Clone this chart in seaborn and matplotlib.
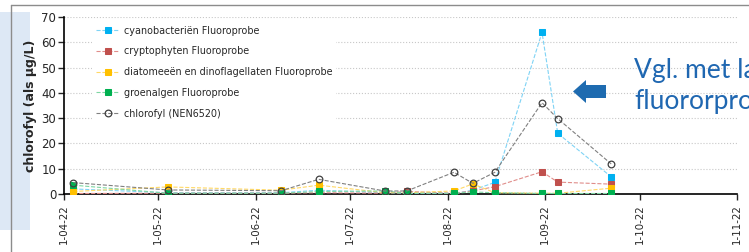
import matplotlib
matplotlib.use("Agg")
import matplotlib.pyplot as plt
import matplotlib.dates as mdates
from matplotlib.patches import Rectangle, Polygon
from matplotlib.lines import Line2D
import seaborn as sns
import pandas as pd

sns.set_style("white")
plt.rcParams['font.family'] = ['DejaVu Sans']

dates = ["2022-04-04", "2022-05-04", "2022-06-09", "2022-06-21", "2022-07-12", "2022-07-19",
         "2022-08-03", "2022-08-09", "2022-08-16", "2022-08-31", "2022-09-05", "2022-09-22"]
cyano = [2.0, 0.5, 0.5, 1.5, 0.5, 0.3, 0.2, 1.5, 4.6, 63.9, 24.0, 6.8]
crypto = [0.2, 0.3, 0.3, 0.5, 0.3, 1.0, 0.3, 1.2, 2.9, 8.8, 4.7, 3.9]
diatom = [1.0, 2.8, 1.5, 3.5, 0.5, 0.5, 1.2, 4.0, 0.5, 0.3, 0.3, 2.3]
groen = [3.5, 0.3, 0.3, 1.0, 1.2, 0.3, 0.3, 0.8, 0.5, 0.2, 0.2, 0.2]
chloro = [4.5, 1.6, 1.3, 5.8, 1.2, 1.2, 8.6, 4.2, 8.6, 36.1, 29.8, 11.9]

labels = ["cyanobacteriën Fluoroprobe", "cryptophyten Fluoroprobe",
          "diatomeeën en dinoflagellaten Fluoroprobe", "groenalgen Fluoroprobe",
          "chlorofyl (NEN6520)"]
xticks = ["2022-04-01", "2022-05-01", "2022-06-01", "2022-07-01", "2022-08-01",
          "2022-09-01", "2022-10-01", "2022-11-01"]

df = pd.DataFrame({"datum": pd.to_datetime(dates), "cyano": cyano, "crypto": crypto,
                   "diatom": diatom, "groen": groen, "chloro": chloro})

W, H = 749, 252
fig = plt.figure(figsize=(W / 100, H / 100), dpi=100)


def fx(x):
    return x / W


def fy(y):
    return 1 - y / H


# slide decorations
fig.patches.append(Rectangle((0, fy(230)), fx(30), fy(12) - fy(230), transform=fig.transFigure,
                             facecolor="#dde8f5", edgecolor="none", zorder=-2))
fig.lines.append(Line2D([fx(11), fx(11)], [fy(5), 0], transform=fig.transFigure,
                        color="#8c8c8c", lw=1, zorder=-1))
fig.lines.append(Line2D([fx(11), 1], [fy(5), fy(5)], transform=fig.transFigure,
                        color="#8c8c8c", lw=1, zorder=-1))

ax = fig.add_axes([fx(64), fy(194), fx(737) - fx(64), fy(17) - fy(194)])
ax.patch.set_alpha(0)

series = [("cyano", "#00b0f0", "#7fd3f5", "s"),
          ("crypto", "#c0504d", "#e08d8a", "s"),
          ("diatom", "#ffc000", "#ffd966", "s"),
          ("groen", "#00b050", "#7fd6a3", "s")]
for (col, mc, lc, m), lab in zip(series, labels[:4]):
    sns.lineplot(data=df, x="datum", y=col, ax=ax, color=lc, linestyle="--", lw=0.8,
                 marker=m, markersize=4.5, markerfacecolor=mc, markeredgecolor=mc,
                 label=lab, zorder=3)
sns.lineplot(data=df, x="datum", y="chloro", ax=ax, color="#808080", linestyle="--", lw=0.8,
             marker="o", markersize=4.8, markerfacecolor="none", markeredgecolor="#404040",
             markeredgewidth=0.9, label=labels[4], zorder=4)

ax.set_xlim(pd.Timestamp(xticks[0]), pd.Timestamp(xticks[-1]))
ax.set_ylim(0, 70)
ax.set_yticks(range(0, 71, 10))
ax.set_xticks(pd.to_datetime(xticks))
ax.xaxis.set_major_formatter(mdates.DateFormatter("1-%m-%y"))
ax.tick_params(axis="x", rotation=90, labelsize=7.4, length=4, width=1, direction="out",
               bottom=True, pad=3.5)
ax.tick_params(axis="y", labelsize=8.5, length=4, width=1, direction="out", left=True, pad=1.5)
ax.set_xlabel("")
ax.set_ylabel("chlorofyl (als µg/L)", fontsize=9, fontweight="bold", labelpad=3)
ax.yaxis.grid(True, linestyle=":", color="#c8c8c8", lw=0.8)
for s in ["top", "right"]:
    ax.spines[s].set_visible(False)
for s in ["left", "bottom"]:
    ax.spines[s].set_color("black")
    ax.spines[s].set_linewidth(1.2)

leg = ax.legend(loc="upper left", bbox_to_anchor=(0.035, 1.0), fontsize=6.9, frameon=True,
                framealpha=1, edgecolor="none", facecolor="white", handlelength=2.4,
                labelspacing=1.12, borderpad=0.4, handletextpad=0.5)
leg.set_zorder(5)

# annotation on the slide
fig.text(fx(634), fy(78), "Vgl. met laboratorium", fontsize=19, color="#1f67b1",
         family="Lato", va="baseline", ha="left")
fig.text(fx(634), fy(109), "fluororprobe", fontsize=19, color="#1f67b1",
         family="Lato", va="baseline", ha="left")
arrow = [(573, 91.5), (586, 80), (586, 85), (606, 85), (606, 98), (586, 98), (586, 103)]
fig.patches.append(Polygon([(fx(x), fy(y)) for x, y in arrow], closed=True,
                           transform=fig.transFigure, facecolor="#1e6bb0", edgecolor="none"))

fig.savefig("out.png", dpi=100)
